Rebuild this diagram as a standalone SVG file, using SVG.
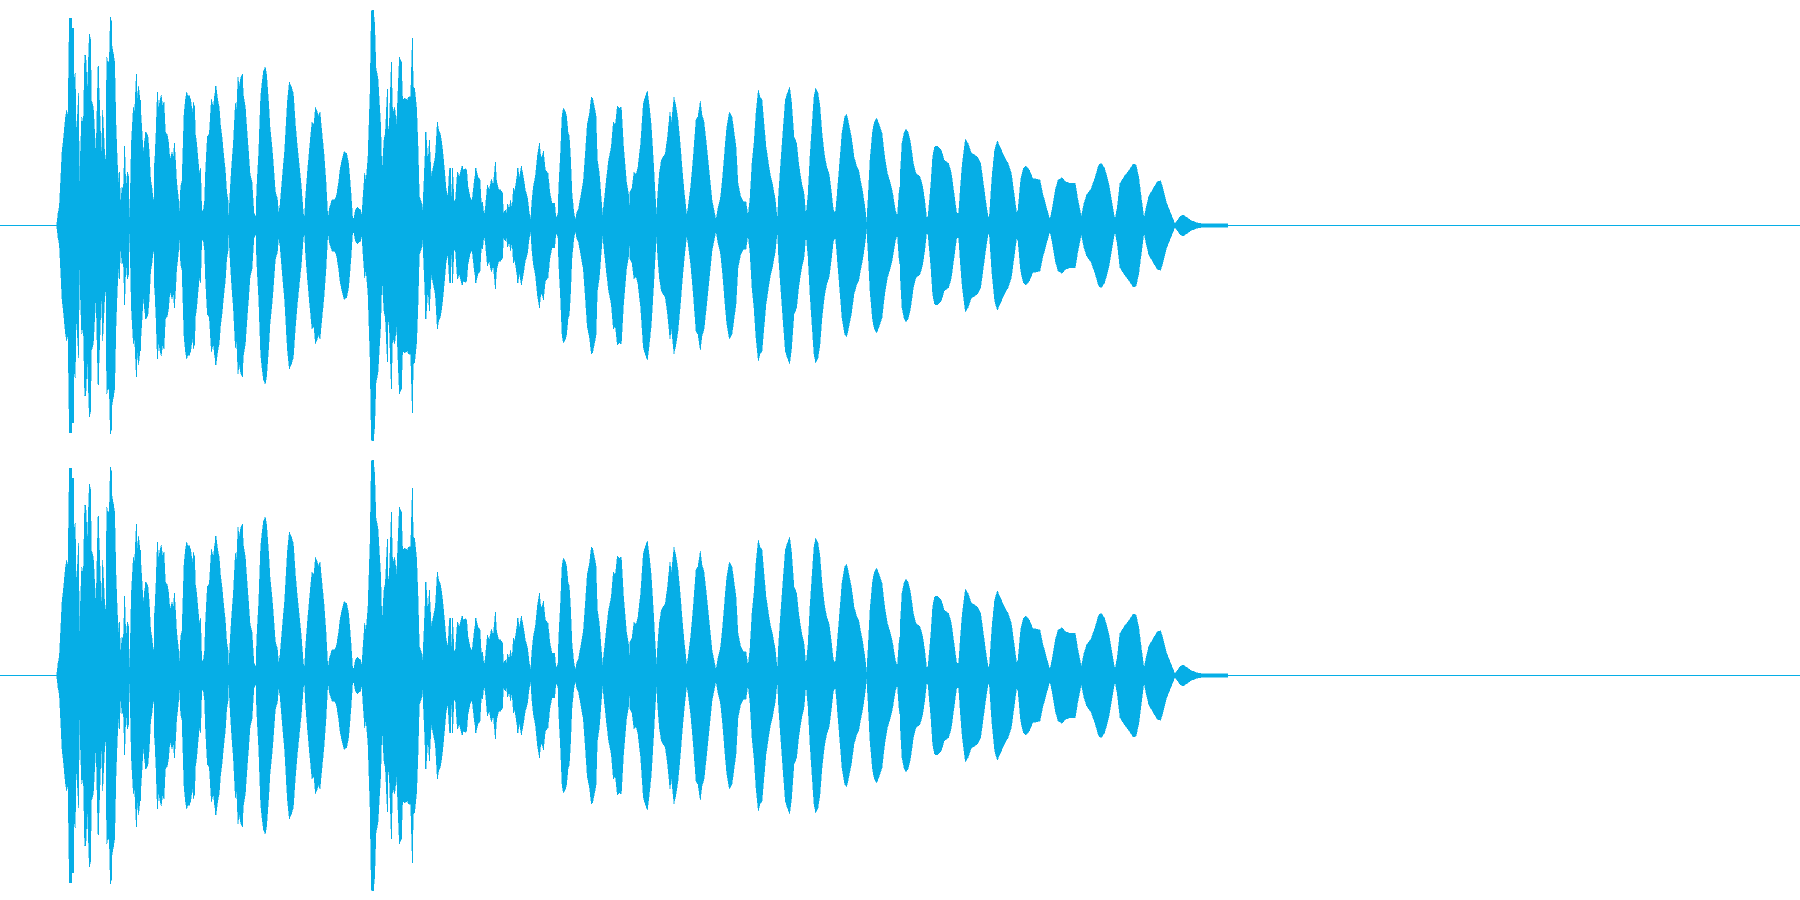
<svg xmlns="http://www.w3.org/2000/svg" width="1800" height="900" viewBox="0 0 1800 900">
<style>.w{fill:#06aee6;stroke:#06aee6;stroke-width:1.5;shape-rendering:crispEdges}.b{fill:#06aee6;shape-rendering:crispEdges}.s{fill:none;stroke:#06aee6;stroke-width:3;shape-rendering:crispEdges}</style>
<defs>
<g id="half">
<path class="w" transform="scale(.33333)" d="M170,677L170,676 174,640 178,620 181,560 186,456 190,420 196,355 200,330 204,348 208,55 214,55 216,85 222,85 222,237 226,218 228,400 232,350 236,280 238,560 240,500 245,350 250,375 254,165 258,178 262,275 268,102 272,118 274,300 280,320 288,470 294,200 298,285 304,470 308,330 314,455 318,490 320,170 324,190 328,180 331,52 335,65 336,138 340,160 344,185 348,375 352,485 356,555 358,515 362,610 366,560 370,570 374,438 378,570 382,515 386,530 388,660 390,625 394,430 400,322 404,335 409,222 412,300 416,258 420,300 424,360 430,460 434,420 438,395 444,410 448,460 452,540 456,565 460,600 462,600 464,490 468,400 472,277 476,325 480,300 484,285 488,320 492,305 496,395 502,405 506,430 510,480 516,455 520,475 523,430 526,470 530,545 536,600 538,645 542,560 546,545 552,345 556,300 560,277 564,290 568,285 572,300 578,340 580,307 584,320 586,400 590,430 594,475 598,520 602,505 604,590 606,635 610,630 614,600 616,525 622,410 628,400 634,297 640,320 644,285 648,258 652,290 658,325 662,380 666,410 672,475 676,510 680,575 684,600 686,660 690,580 694,510 700,430 706,310 710,330 714,232 718,260 722,235 727,222 730,285 736,320 740,380 746,460 750,520 756,545 762,640 768,650 770,570 776,460 782,290 786,250 790,215 796,200 800,225 806,310 810,380 816,440 820,490 826,575 832,595 836,640 840,615 848,520 854,450 862,305 868,246 874,260 880,280 886,370 892,440 898,500 904,560 910,640 914,650 916,600 922,520 928,450 936,365 942,375 946,322 950,330 956,350 960,335 966,400 972,460 978,545 984,660 988,625 996,600 1004,600 1010,585 1016,545 1020,510 1026,480 1032,455 1040,460 1046,490 1052,565 1058,655 1062,655 1066,630 1072,622 1082,630 1086,650 1088,605 1094,520 1098,545 1104,470 1110,285 1114,32 1120,30 1124,70 1128,205 1134,235 1138,305 1142,375 1146,520 1152,420 1156,400 1162,268 1164,400 1168,370 1174,185 1178,340 1184,322 1190,375 1198,172 1204,185 1208,300 1214,295 1222,300 1226,290 1232,290 1237,115 1240,262 1244,265 1250,325 1254,435 1258,590 1264,605 1268,635 1272,545 1278,395 1284,490 1288,420 1294,530 1300,500 1306,470 1312,365 1316,390 1322,405 1328,450 1334,515 1338,565 1344,590 1348,510 1350,505 1350,677Z"/>
<path class="s" transform="scale(.33333)" d="M209,676V55M214,676V55M268,676V102M256,676V165M295,676V198M331,676V52M374,676V438M358,676V515M409,676V222M421,676V300M438,676V395M463,676V490M472,676V277M523,676V430M648,676V258M727,676V222M1115,676V32M1120,676V30M1162,676V268M1174,676V185M1198,676V172M1204,676V185M1237,676V115M1278,676V395M1288,676V420M1312,676V365"/>
<path class="w" transform="translate(450,0) scale(.33333)" d="M0,677L0,505 4,600 8,505 12,600 16,605 22,515 28,530 36,498 40,510 46,505 50,510 54,560 60,590 66,605 72,550 78,505 84,530 90,540 94,610 98,605 102,650 106,625 112,555 118,570 124,537 130,555 136,487 140,545 146,570 152,570 158,580 160,640 166,630 170,640 172,612 178,625 182,600 186,630 190,565 194,575 200,535 204,505 208,535 214,498 220,530 226,570 232,590 238,640 242,660 246,600 250,560 256,530 262,470 268,430 272,465 276,475 280,453 286,510 294,520 300,580 306,610 314,610 318,655 324,640 326,565 332,450 336,350 340,325 346,335 350,350 354,395 358,410 362,480 366,580 372,640 376,660 380,640 386,625 392,590 400,545 406,460 412,370 418,345 424,290 428,295 432,315 438,345 442,480 448,520 454,600 458,650 460,625 466,570 470,530 476,480 484,440 490,365 496,375 502,318 508,325 514,320 520,430 524,480 530,550 536,585 538,630 540,575 546,565 552,515 558,525 564,500 572,430 580,310 586,290 592,273 598,320 604,380 610,480 616,590 620,650 622,600 628,520 634,480 640,470 646,460 652,415 660,335 664,370 672,292 678,320 684,360 690,425 696,500 702,570 710,645 714,625 722,560 730,470 738,360 744,350 751,303 756,345 762,365 768,420 774,480 780,540 786,600 792,630 798,660 804,625 812,590 818,530 826,430 830,385 838,337 846,350 852,395 858,440 864,550 872,590 880,605 888,605 894,650 900,595 906,490 912,430 918,340 925,270 930,290 936,300 942,370 948,440 954,480 960,520 968,555 976,600 982,660 986,580 992,490 1000,380 1006,300 1012,280 1019,262 1024,300 1032,410 1040,430 1046,490 1054,545 1062,580 1068,648 1074,585 1080,470 1086,380 1092,290 1097,265 1104,280 1110,320 1116,400 1124,470 1130,500 1138,525 1144,575 1150,630 1156,640 1160,600 1168,500 1176,400 1184,350 1190,343 1196,370 1204,410 1212,470 1220,500 1226,510 1232,545 1238,575 1246,630 1250,670 1254,600 1260,480 1268,390 1274,365 1280,355 1288,375 1296,400 1304,470 1312,520 1320,545 1328,580 1336,630 1342,650 1347,580 1350,560 1350,677Z"/>
<path class="s" transform="translate(450,0) scale(.33333)" d="M2,676V505M9,676V505M37,676V498M78,676V505M136,676V487M190,676V565M204,676V505M214,676V498M268,676V430M280,676V453"/>
<path class="w" transform="translate(900,0) scale(.33333)" d="M0,677L0,535 6,430 12,400 18,388 24,395 32,430 40,490 48,520 60,530 68,560 74,600 80,655 84,650 92,560 98,470 104,440 112,438 124,450 132,480 146,490 154,520 162,580 170,640 176,640 180,580 186,500 196,418 204,430 214,460 224,465 232,470 242,490 250,550 258,610 264,650 268,650 276,530 284,450 292,423 300,440 310,465 324,490 334,520 342,580 350,640 354,630 362,540 370,505 378,498 388,510 398,535 420,540 428,580 440,625 450,660 456,630 466,570 474,540 486,533 496,545 510,550 526,550 532,590 544,650 552,610 560,585 574,565 586,530 596,495 604,490 614,505 626,550 636,610 645,660 652,620 660,550 676,525 688,510 700,492 708,495 716,530 726,610 732,655 738,625 746,590 760,565 772,545 782,542 790,570 800,610 812,640 824,670 830,665 840,650 850,645 860,652 874,662 890,668 910,672 918,672 984,672 984,677Z"/>
</g>
<g id="channel">
<rect class="b" x="0" y="225" width="1800" height="1"/>
<use href="#half"/>
<use href="#half" transform="translate(0,451) scale(1,-1)"/>
</g>
</defs>
<rect width="1800" height="900" fill="#fff"/>
<use id="channel-1" href="#channel"/>
<use id="channel-2" href="#channel" transform="translate(0,450)"/>
</svg>
